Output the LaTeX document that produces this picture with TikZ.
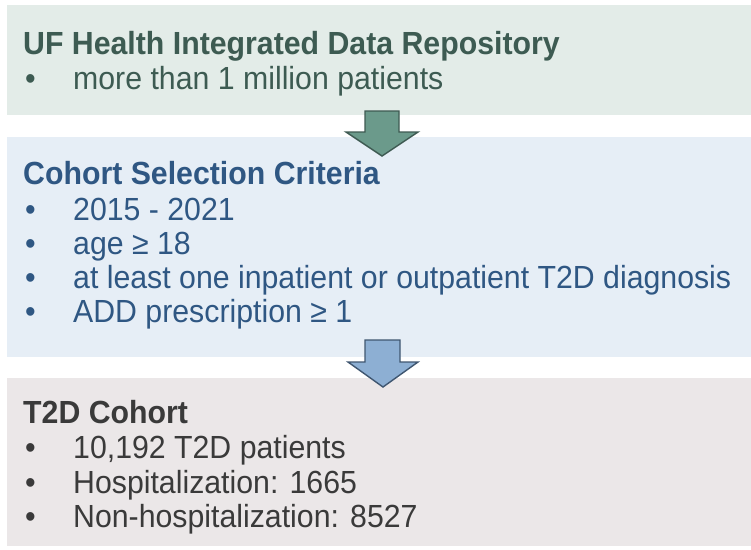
\documentclass[tikz,border=0pt]{standalone}
\usepackage{fontspec}
\setmainfont{Liberation Sans}[FakeStretch=0.946]
\definecolor{bgA}{HTML}{E3ECE8}
\definecolor{bgB}{HTML}{E6EEF6}
\definecolor{bgC}{HTML}{EBE7E8}
\definecolor{txA}{HTML}{3D5B52}
\definecolor{txB}{HTML}{2F5783}
\definecolor{txC}{HTML}{3A3A3A}
\definecolor{arA}{HTML}{6B9A8B}
\definecolor{arAd}{HTML}{3E5A52}
\definecolor{arB}{HTML}{8DAFD3}
\definecolor{arBd}{HTML}{3F5670}
\tikzset{
  panel/.style={anchor=north west, inner sep=0pt, draw=none, minimum width=744pt},
  ttl/.style={anchor=base west, inner sep=0pt, font=\fontsize{32}{38}\selectfont\bfseries},
  itm/.style={anchor=base west, inner sep=0pt, font=\fontsize{32}{38}\selectfont},
  blockarrow/.style={line width=1.4pt, line join=miter}
}
\begin{document}
\begin{tikzpicture}[x=1pt,y=-1pt]
\useasboundingbox[fill=white] (0,0) rectangle (751,549);
% panels
\node[panel, fill=bgA, minimum height=110pt] (repo) at (7,5) {};
\node[panel, fill=bgB, minimum height=220pt] (crit) at (7,137) {};
\node[panel, fill=bgC, minimum height=168pt] (cohort) at (7,378) {};
% arrows
\draw[blockarrow, fill=arA, draw=arAd] (365,111) -- (399,111) -- (399,132) -- (418,132) -- (382,156) -- (346,132) -- (365,132) -- cycle;
\draw[blockarrow, fill=arB, draw=arBd] (365,340) -- (400,340) -- (400,362) -- (418,362) -- (383,387) -- (348,362) -- (365,362) -- cycle;
% panel 1 text
\node[ttl, text=txA] (t1) at (23,54) {UF Health Integrated Data Repository};
\node[itm, text=txA] (b1a) at (25,89) {•};
\node[itm, text=txA] (i1a) at (73,89) {more than 1 million patients};
% panel 2 text
\node[ttl, text=txB] (t2) at (23,184) {Cohort Selection Criteria};
\node[itm, text=txB] (b2a) at (25,220) {•};
\node[itm, text=txB] (i2a) at (73,220) {2015 - 2021};
\node[itm, text=txB] (b2b) at (25,254) {•};
\node[itm, text=txB] (i2b) at (73,254) {age ≥ 18};
\node[itm, text=txB] (b2c) at (25,288) {•};
\node[itm, text=txB] (i2c) at (73,288) {at least one inpatient or outpatient T2D diagnosis};
\node[itm, text=txB] (b2d) at (25,322) {•};
\node[itm, text=txB] (i2d) at (73,322) {ADD prescription ≥ 1};
% panel 3 text
\node[ttl, text=txC] (t3) at (23,423) {T2D Cohort};
\node[itm, text=txC] (b3a) at (25,458) {•};
\node[itm, text=txC] (i3a) at (73,458) {10,192 T2D patients};
\node[itm, text=txC] (b3b) at (25,493) {•};
\node[itm, text=txC] (i3b) at (73,493) {Hospitalization: 1665};
\node[itm, text=txC] (b3c) at (25,527) {•};
\node[itm, text=txC] (i3c) at (73,527) {Non-hospitalization: 8527};
\end{tikzpicture}
\end{document}
